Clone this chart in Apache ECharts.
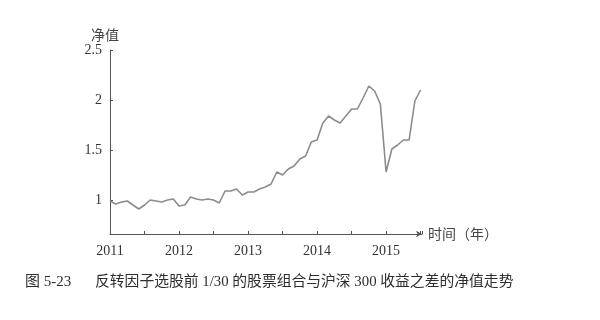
<!DOCTYPE html>
<html>
<head>
<meta charset="utf-8">
<script src="https://cdn.jsdelivr.net/npm/echarts@6/dist/echarts.min.js"></script>
<style>html,body{margin:0;padding:0;background:#fff}#c{width:600px;height:320px}</style>
</head>
<body>
<div id="c"></div>
<script>
var months = ['2011-01','2011-02','2011-03','2011-04','2011-05','2011-06','2011-07','2011-08','2011-09','2011-10','2011-11','2011-12',
'2012-01','2012-02','2012-03','2012-04','2012-05','2012-06','2012-07','2012-08','2012-09','2012-10','2012-11','2012-12',
'2013-01','2013-02','2013-03','2013-04','2013-05','2013-06','2013-07','2013-08','2013-09','2013-10','2013-11','2013-12',
'2014-01','2014-02','2014-03','2014-04','2014-05','2014-06','2014-07','2014-08','2014-09','2014-10','2014-11','2014-12',
'2015-01','2015-02','2015-03','2015-04','2015-05','2015-06','2015-07'];
var netValue = [0.99,0.96,0.98,0.99,0.95,0.91,0.95,1.00,0.99,0.98,1.00,1.01,
0.94,0.95,1.03,1.01,1.00,1.01,1.00,0.97,1.09,1.09,1.11,1.05,
1.08,1.08,1.11,1.13,1.16,1.28,1.25,1.31,1.34,1.41,1.44,1.58,
1.60,1.77,1.84,1.80,1.77,1.84,1.91,1.91,2.02,2.14,2.09,1.96,
1.28,1.51,1.55,1.60,1.60,1.99,2.10];
var yTicks = [1, 1.5, 2, 2.5];
var yearTicks = [2011, 2012, 2013, 2014, 2015];
var captionNo = '图 5-23';
var captionText = '反转因子选股前 1/30 的股票组合与沪深 300 收益之差的净值走势';

function toYear(s){ var p = s.split('-'); return +p[0] + (+p[1] - 1) / 12; }
var seriesData = months.map(function(m, i){ return [toYear(m), netValue[i]]; });

var serif = '"Liberation Serif","DejaVu Serif",serif';
var cjk = '"Noto Sans CJK SC","Liberation Serif",sans-serif';
var chart = echarts.init(document.getElementById('c'), null, {renderer:'canvas'});
chart.setOption({
  backgroundColor: '#ffffff',
  animation: false,
  grid: {left: 110, right: 178, top: 50, bottom: 86, containLabel: false},
  xAxis: {
    type: 'value', min: 2011, max: 2015.52, interval: 0.5,
    name: '时间（年）', nameLocation: 'end', nameGap: 6,
    nameTextStyle: {fontFamily: cjk, fontSize: 14, color: '#444', verticalAlign: 'middle'},
    axisLine: {show: true, symbol: ['none','arrow'], symbolSize: [5, 6], lineStyle: {color: '#555', width: 1}},
    axisTick: {show: true, inside: true, length: 3, lineStyle: {color: '#555'}},
    splitLine: {show: false},
    axisLabel: {
      fontFamily: serif, fontSize: 14, color: '#333', margin: 10,
      formatter: function(v){ return yearTicks.indexOf(Math.round(v*100)/100) >= 0 ? String(v) : ''; }
    }
  },
  yAxis: {
    type: 'value', min: 0.66, max: 2.5,
    name: '净值', nameLocation: 'end', nameGap: 8,
    nameTextStyle: {fontFamily: cjk, fontSize: 14, color: '#444', align: 'center', padding: [0, 10, 0, 0]},
    axisLine: {show: true, lineStyle: {color: '#555', width: 1}},
    axisTick: {show: true, inside: true, length: 3, customValues: yTicks, lineStyle: {color: '#555'}},
    splitLine: {show: false},
    axisLabel: {fontFamily: serif, fontSize: 14, color: '#333', margin: 8, customValues: yTicks,
      formatter: function(v){ return String(v); }}
  },
  series: [{
    type: 'line', data: seriesData, symbol: 'none', smooth: false,
    lineStyle: {color: '#8c8c8c', width: 1.6}
  }],
  graphic: [{
    type: 'text', left: 25, top: 275,
    style: {text: captionNo, font: '15px "Liberation Serif","Noto Sans CJK SC", serif', fill: '#2e2e2e'}
  }, {
    type: 'text', left: 95, top: 275,
    style: {text: captionText, font: '14.8px "Liberation Serif","Noto Sans CJK SC", serif', fill: '#2e2e2e'}
  }]
});
</script>
</body>
</html>
